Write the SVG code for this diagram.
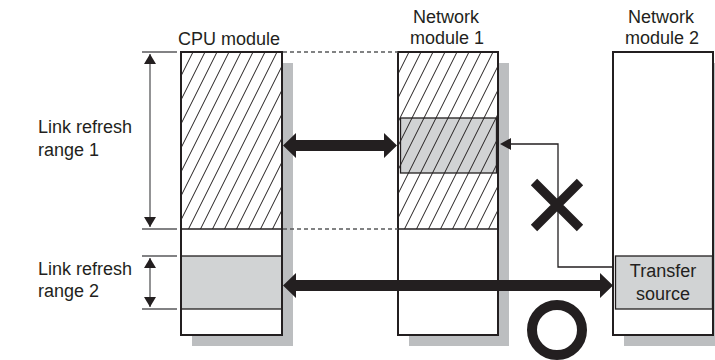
<svg xmlns="http://www.w3.org/2000/svg" width="715" height="360" viewBox="0 0 715 360">
<style>
text{font-family:"Liberation Sans",Arial,sans-serif;font-size:18px;fill:#231f20}
.box{fill:none;stroke:#231f20;stroke-width:2}
.shadow{fill:#bcbec0}
.grayfill{fill:#d1d3d4;stroke:#231f20;stroke-width:1.3}
.div{stroke:#231f20;stroke-width:1.3;fill:none}
.dim{stroke:#58595b;stroke-width:1.3;fill:none}
.dash{stroke:#58595b;stroke-width:1.3;stroke-dasharray:4 3;fill:none}
.thin{stroke:#231f20;stroke-width:1.3;fill:none}
.thick{fill:#231f20}
</style>
<defs>
<pattern id="hatch" patternUnits="userSpaceOnUse" x="181" y="52" width="12" height="24">
<path d="M-1 26 L13 -2 M11 26 L25 -2 M-13 26 L1 -2" stroke="#231f20" stroke-width="1" fill="none"/>
</pattern>
<marker id="ah" viewBox="0 0 10 12" refX="10" refY="6" markerWidth="10" markerHeight="12" markerUnits="userSpaceOnUse" orient="auto-start-reverse">
<path d="M0 0 L10 6 L0 12 Z" fill="#231f20"/>
</marker>
</defs>

<g id="cpu-module">
<rect class="shadow" x="192" y="63" width="101" height="283"/>
<rect x="181" y="52" width="101" height="283" fill="#fff"/>
<rect x="181" y="52" width="101" height="177" fill="url(#hatch)"/>
<rect class="grayfill" x="181" y="256" width="101" height="53"/>
<line class="div" x1="181" y1="229" x2="282" y2="229"/>
<rect class="box" x="181" y="52" width="101" height="283"/>
<text x="229" y="45" text-anchor="middle">CPU module</text>
</g>

<g id="network-module-1">
<rect class="shadow" x="409" y="63" width="100" height="283"/>
<rect x="398" y="52" width="100" height="283" fill="#fff"/>
<rect class="grayfill" x="400.5" y="118" width="96" height="55"/>
<rect x="398" y="52" width="100" height="177" fill="url(#hatch)"/>
<line class="div" x1="398" y1="229" x2="498" y2="229"/>
<rect class="box" x="398" y="52" width="100" height="283"/>
<text x="446" y="23" text-anchor="middle">Network</text>
<text x="447" y="44" text-anchor="middle">module 1</text>
</g>

<g id="network-module-2">
<rect class="shadow" x="624" y="63" width="100" height="283"/>
<rect x="613" y="52" width="100" height="283" fill="#fff"/>
<rect class="grayfill" x="615.5" y="256" width="97" height="53"/>
<rect class="box" x="613" y="52" width="100" height="283"/>
<text x="663" y="277" text-anchor="middle" fill="#333">Transfer</text>
<text x="663" y="300" text-anchor="middle" fill="#333">source</text>
<text x="661" y="23" text-anchor="middle">Network</text>
<text x="662" y="44" text-anchor="middle">module 2</text>
</g>

<g id="labels">
<text x="38" y="133">Link refresh</text>
<text x="38" y="156">range 1</text>
<text x="38" y="275">Link refresh</text>
<text x="38" y="297">range 2</text>
</g>

<g id="connectors">
<line class="dim" x1="142" y1="52" x2="177" y2="52"/>
<line class="dim" x1="142" y1="229" x2="177" y2="229"/>
<line class="dim" x1="142" y1="256" x2="177" y2="256"/>
<line class="dim" x1="142" y1="309" x2="177" y2="309"/>
<line class="dim" x1="150" y1="54" x2="150" y2="227" marker-start="url(#ah)" marker-end="url(#ah)"/>
<line class="dim" x1="150" y1="258" x2="150" y2="307" marker-start="url(#ah)" marker-end="url(#ah)"/>
<line class="dash" x1="283" y1="52" x2="398" y2="52"/>
<line class="dash" x1="283" y1="229" x2="398" y2="229"/>
<path class="thick" d="M283 145.5 L296 133 L296 140 L384 140 L384 133 L397 145.5 L384 158 L384 151 L296 151 L296 158 Z"/>
<path class="thick" d="M283 285.5 L296 273 L296 280 L600 280 L600 273 L613 285.5 L600 298 L600 291 L296 291 L296 298 Z"/>
<polyline class="thin" points="613,267 558,267 558,144 509,144"/>
<path d="M500 144 L511 138 L511 150 Z" fill="#231f20"/>
<path d="M534 182 L580 228 M580 182 L534 228" stroke="#231f20" stroke-width="9" fill="none"/>
<circle cx="557" cy="330" r="25" fill="none" stroke="#231f20" stroke-width="10"/>
</g>
</svg>
